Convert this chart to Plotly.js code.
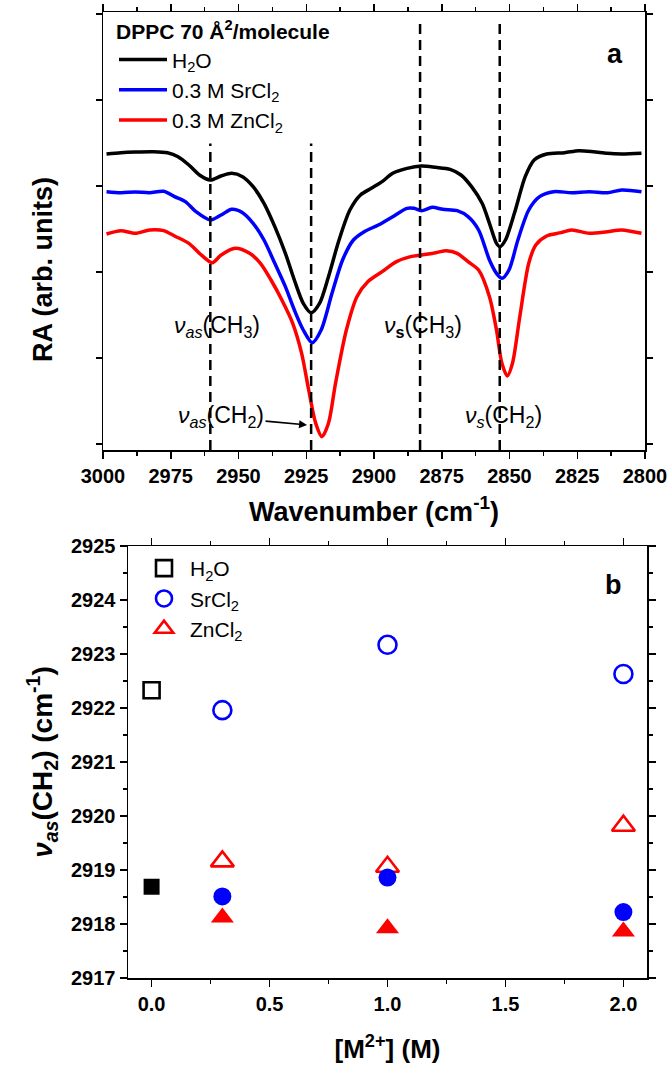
<!DOCTYPE html>
<html><head><meta charset="utf-8">
<script src="https://cdn.plot.ly/plotly-3.0.1.min.js"></script>
<style>html,body{margin:0;padding:0;background:#fff}</style>
</head><body><div id="chart" style="width:672px;height:1067px"></div>
<script>
// ---- Panel a: RA spectra ----
const wnBlack = [2998.7,2993.4,2988.1,2981.5,2976.2,2972.3,2968.3,2964.4,2960.4,2956.4,2952.5,2948.5,2944.6,2940.6,2936.6,2932.7,2929.4,2926.1,2923.2,2920.1,2916.8,2912.9,2908.9,2905.0,2901.0,2897.0,2893.1,2887.8,2882.5,2877.2,2871.9,2867.9,2864.0,2860.1,2857.4,2854.8,2853.5,2851.5,2848.2,2844.2,2840.9,2836.3,2829.7,2824.4,2819.1,2813.9,2808.6,2801.3];
const raBlack = [.878,.882,.884,.885,.882,.870,.845,.815,.800,.812,.820,.810,.780,.730,.660,.580,.500,.430,.402,.430,.510,.620,.710,.755,.775,.795,.820,.835,.842,.838,.832,.815,.780,.730,.670,.610,.600,.620,.700,.810,.860,.878,.882,.888,.885,.880,.878,.880];
const wnBlue = [2998.7,2993.4,2988.1,2982.8,2977.6,2973.6,2969.6,2965.7,2960.4,2956.4,2952.5,2948.5,2944.6,2940.6,2936.6,2932.7,2929.4,2926.1,2922.8,2919.5,2915.5,2911.6,2907.6,2903.6,2898.4,2893.1,2887.8,2885.2,2882.5,2878.5,2874.6,2869.3,2865.3,2861.4,2857.4,2854.8,2852.8,2850.2,2846.9,2842.9,2838.9,2833.7,2827.1,2820.5,2813.9,2808.6,2801.3];
const raBlue = [.765,.762,.764,.762,.766,.750,.735,.705,.680,.695,.712,.702,.670,.620,.550,.480,.410,.350,.312,.350,.460,.560,.620,.645,.665,.690,.715,.715,.708,.718,.712,.708,.690,.650,.560,.520,.505,.530,.620,.710,.750,.765,.762,.765,.762,.770,.765];
const wnRed = [2998.7,2993.4,2988.1,2982.8,2977.6,2973.6,2968.3,2964.4,2959.7,2956.4,2951.2,2945.9,2941.9,2938.0,2934.0,2930.0,2926.7,2924.1,2921.5,2919.2,2916.8,2914.2,2910.2,2906.3,2902.3,2897.0,2891.7,2886.5,2882.5,2877.2,2873.3,2869.3,2865.3,2861.4,2857.4,2854.8,2852.8,2850.8,2848.9,2846.2,2842.9,2840.3,2836.3,2831.0,2827.1,2820.5,2813.9,2808.6,2801.3];
const raRed = [.638,.648,.640,.650,.648,.632,.610,.580,.552,.575,.595,.580,.550,.500,.440,.370,.280,.170,.070,.030,.070,.190,.350,.450,.495,.525,.555,.570,.575,.582,.588,.580,.555,.530,.450,.350,.250,.212,.250,.390,.550,.605,.632,.642,.650,.640,.645,.650,.640];
const seriesNames = ['H<sub>2</sub>O', '0.3 M SrCl<sub>2</sub>', '0.3 M ZnCl<sub>2</sub>'];
const peakWn = [2960.4, 2923.2, 2883.0, 2853.6];
const peakLabels = ['<i>ν</i><sub><i>as</i></sub>(CH<sub>3</sub>)', '<i>ν</i><sub><i>as</i></sub>(CH<sub>2</sub>)', '<i>ν</i><sub><b>s</b></sub>(CH<sub>3</sub>)', '<i>ν</i><sub><i>s</i></sub>(CH<sub>2</sub>)'];
const labelWn = [2958.0, 2956.5, 2882.0, 2852.1];
const labelRA = [0.359, 0.089, 0.359, 0.089];
const arrowTip = [2924.7, 0.065];

// ---- Panel b: peak positions ----
const concH2O = [0];
const conc = [0.3, 1.0, 2.0];
const h2oOpen = [2922.33];
const h2oFilled = [2918.69];
const srOpen = [2921.96, 2923.17, 2922.63];
const srFilled = [2918.51, 2918.86, 2918.22];
const znOpen = [2919.16, 2919.06, 2919.82];
const znFilled = [2918.12, 2917.92, 2917.86];
const legendB = ['H<sub>2</sub>O', 'SrCl<sub>2</sub>', 'ZnCl<sub>2</sub>'];

const F = 'Liberation Sans, Arial, sans-serif';
const colors = ['#000000', '#0000ff', '#ff0000'];

const traces = [];
[[wnBlack, raBlack], [wnBlue, raBlue], [wnRed, raRed]].forEach((d, i) => {
  traces.push({x: d[0], y: d[1], type: 'scatter', mode: 'lines', name: seriesNames[i],
    line: {color: colors[i], width: 3.5, shape: 'spline', smoothing: 0.8},
    xaxis: 'x', yaxis: 'y', legend: 'legend', legendgroup: 'a' + i});
});
const openSets = [[concH2O, h2oOpen, 'square-open', 16], [conc, srOpen, 'circle-open', 18], [conc, znOpen, 'triangle-up-open', 20]];
const fillSets = [[concH2O, h2oFilled, 'square', 16], [conc, srFilled, 'circle', 18], [conc, znFilled, 'triangle-up', 20]];
openSets.forEach((d, i) => {
  traces.push({x: d[0], y: d[1], type: 'scatter', mode: 'markers', name: legendB[i],
    marker: {symbol: d[2], size: d[3], color: colors[i], line: {width: 2.6, color: colors[i]}},
    xaxis: 'x2', yaxis: 'y2', legend: 'legend2', legendgroup: 'b' + i});
});
fillSets.forEach((d, i) => {
  traces.push({x: d[0], y: d[1], type: 'scatter', mode: 'markers', name: legendB[i], showlegend: false,
    marker: {symbol: d[2], size: d[3], color: colors[i], line: {width: 0}},
    xaxis: 'x2', yaxis: 'y2', legendgroup: 'b' + i});
});

const axBase = {showline: true, linewidth: 1.5, linecolor: '#000', mirror: 'ticks', showgrid: false, zeroline: false,
  ticks: 'outside', ticklen: 7, tickwidth: 1.5, tickcolor: '#000',
  tickfont: {family: F, size: 20, weight: 'bold', color: '#000'}};

const shapes = peakWn.map((w, i) => ({type: 'line', xref: 'x', yref: 'y domain', x0: w, x1: w, y0: 0, y1: i < 2 ? 0.70 : 0.98,
  line: {color: '#000', width: 2.5, dash: '10px,6px'}}));

const annFont = {family: F, size: 23, color: '#000'};
const annotations = [
  {xref: 'x', yref: 'y', x: labelWn[0], y: labelRA[0], text: peakLabels[0], showarrow: false, font: annFont},
  {xref: 'x', yref: 'y', x: arrowTip[0], y: arrowTip[1], ax: -86, ay: -8, text: peakLabels[1], showarrow: true, arrowhead: 2, arrowsize: 1, arrowwidth: 1.6, arrowcolor: '#000', font: annFont},
  {xref: 'x', yref: 'y', x: labelWn[2], y: labelRA[2], text: peakLabels[2], showarrow: false, font: annFont},
  {xref: 'x', yref: 'y', x: labelWn[3], y: labelRA[3], text: peakLabels[3], showarrow: false, font: annFont},
  {xref: 'paper', yref: 'paper', x: 625/672, y: 1 - 37/1067, text: '<b>a</b>', showarrow: false, font: {family: F, size: 27}},
  {xref: 'paper', yref: 'paper', x: 624/672, y: 1 - 585/1067, text: '<b>b</b>', showarrow: false, font: {family: F, size: 27}},
  {xref: 'paper', yref: 'paper', x: 43/672, y: 1 - 270/1067, xanchor: 'center', yanchor: 'middle', text: 'RA (arb. units)', textangle: -90, showarrow: false,
    font: {family: F, size: 27, weight: 'bold'}}
];

const layout = {
  width: 672, height: 1067, margin: {l: 0, r: 0, t: 0, b: 0},
  paper_bgcolor: '#fff', plot_bgcolor: '#fff',
  font: {family: F, color: '#000'},
  showlegend: true,
  xaxis: Object.assign({}, axBase, {domain: [103/672, 645/672], anchor: 'y', range: [3000, 2800], tick0: 2800, dtick: 25,
    minor: {dtick: 12.5, ticks: 'outside', ticklen: 4, tickwidth: 1.5, tickcolor: '#000'},
    title: {text: 'Wavenumber (cm<sup>-1</sup>)', font: {family: F, size: 27, weight: 'bold'}, standoff: 16}}),
  yaxis: Object.assign({}, axBase, {domain: [1 - 450/1067, 1 - 12/1067], anchor: 'x', range: [-0.01, 1.304], showticklabels: false,
    tick0: 0.524, dtick: 0.258, ticklen: 6}),
  xaxis2: Object.assign({}, axBase, {domain: [128/672, 647/672], anchor: 'y2', range: [-0.1, 2.1], tick0: 0, dtick: 0.5, tickformat: '.1f',
    minor: {dtick: 0.25, ticks: 'outside', ticklen: 4, tickwidth: 1.5, tickcolor: '#000'},
    title: {text: '[M<sup>2+</sup>] (M)', font: {family: F, size: 26, weight: 'bold'}, standoff: 26}}),
  yaxis2: Object.assign({}, axBase, {domain: [1 - 978/1067, 1 - 546/1067], anchor: 'x2', range: [2917, 2925], tick0: 2917, dtick: 1,
    minor: {dtick: 0.5, ticks: 'outside', ticklen: 4, tickwidth: 1.5, tickcolor: '#000'},
    title: {text: '<i>ν</i><sub><i>as</i></sub>(CH<sub>2</sub>) (cm<sup>-1</sup>)', font: {family: F, size: 28, weight: 'bold'}, standoff: 10}}),
  legend: {x: 114/672, y: 1 - 12/1067, xanchor: 'left', yanchor: 'top', bgcolor: 'rgba(0,0,0,0)', borderwidth: 0,
    font: {family: F, size: 21}, tracegroupgap: 6, traceorder: 'normal', itemwidth: 48,
    title: {text: 'DPPC 70 Å<sup>2</sup>/molecule', font: {family: F, size: 21, weight: 'bold'}}},
  legend2: {x: 138/672, y: 1 - 548/1067, xanchor: 'left', yanchor: 'top', bgcolor: 'rgba(0,0,0,0)', borderwidth: 0,
    font: {family: F, size: 21}, tracegroupgap: 7, traceorder: 'normal', itemwidth: 42},
  shapes: shapes,
  annotations: annotations
};

Plotly.newPlot('chart', traces, layout, {staticPlot: true, displayModeBar: false});
</script></body></html>
